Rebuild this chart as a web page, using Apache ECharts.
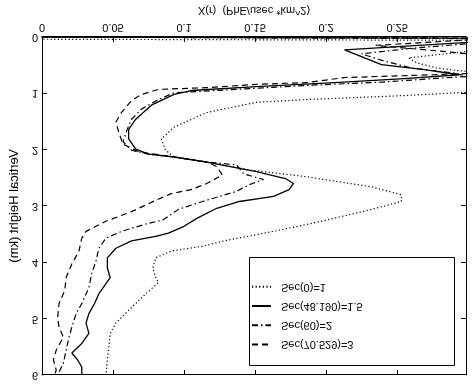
<!DOCTYPE html>
<html>
<head>
<meta charset="utf-8">
<script src="https://cdn.jsdelivr.net/npm/echarts@6/dist/echarts.min.js"></script>
<style>
html,body{margin:0;padding:0;background:#fff;}
#chart{width:474px;height:384px;transform:scaleY(-1);transform-origin:50% 50%;}
</style>
</head>
<body>
<div id="chart"></div>
<script>
// Series names
const seriesNames = ['Sec(70.529)=3', 'Sec(60)=2', 'Sec(48.190)=1.5', 'Sec(0)=1'];
// Axis text
const xAxisTitle = 'X(r)  (PhE/usec *km^2)';
const yAxisTitle = 'Vertical Height (km)';
const xTicks = [0, 0.05, 0.1, 0.15, 0.2, 0.25];
const yTicks = [0, 1, 2, 3, 4, 5, 6];

// Sec(0)=1 (dotted)
const dottedH = [0, 0.04, 0.06, 0.15, 0.24, 0.37, 0.46, 0.55, 0.60, 0.66, 0.90, 0.98, 1.04, 1.11, 1.16, 1.34, 1.60, 1.81, 2.01, 2.13, 2.22, 2.36, 2.48, 2.66, 2.80, 2.92, 3.06, 3.27, 3.45, 3.62, 3.71, 3.80, 3.92, 4.10, 4.27, 4.36, 4.56, 4.85, 5.08, 5.26, 5.51, 5.73, 6.0];
const dottedX = [0, 0, 0.33, 0.33, 0.305, 0.258, 0.264, 0.278, 0.294, 0.32, 0.33, 0.300, 0.255, 0.186, 0.151, 0.116, 0.093, 0.084, 0.087, 0.093, 0.116, 0.146, 0.186, 0.232, 0.253, 0.253, 0.232, 0.197, 0.163, 0.128, 0.114, 0.091, 0.080, 0.078, 0.080, 0.082, 0.073, 0.061, 0.052, 0.048, 0.047, 0.046, 0.045];

// Sec(48.190)=1.5 (solid)
const solidH = [0, 0.02, 0.08, 0.23, 0.49, 0.58, 0.67, 0.74, 0.81, 0.88, 0.95, 1.02, 1.21, 1.46, 1.64, 1.81, 1.99, 2.08, 2.13, 2.22, 2.39, 2.52, 2.60, 2.71, 2.83, 2.92, 3.04, 3.22, 3.36, 3.48, 3.54, 3.62, 3.75, 3.92, 4.10, 4.27, 4.38, 4.56, 4.73, 4.91, 5.08, 5.26, 5.44, 5.61, 5.73, 5.86, 6.0];
const solidX = [0, 0.32, 0.31, 0.213, 0.239, 0.269, 0.294, 0.255, 0.206, 0.151, 0.105, 0.093, 0.077, 0.066, 0.061, 0.061, 0.066, 0.075, 0.093, 0.116, 0.151, 0.172, 0.177, 0.174, 0.163, 0.139, 0.123, 0.109, 0.100, 0.089, 0.080, 0.063, 0.052, 0.046, 0.046, 0.048, 0.045, 0.040, 0.037, 0.033, 0.031, 0.033, 0.028, 0.021, 0.025, 0.028, 0.028];

// Sec(60)=2 (dash-dot)
const dashDotH = [0, 0.03, 0.10, 0.20, 0.30, 0.42, 0.55, 0.64, 0.70, 0.73, 0.80, 0.86, 0.99, 1.11, 1.28, 1.46, 1.64, 1.86, 2.01, 2.08, 2.13, 2.22, 2.27, 2.43, 2.53, 2.62, 2.74, 2.92, 3.06, 3.25, 3.32, 3.45, 3.57, 3.75, 3.98, 4.20, 4.45, 4.73, 4.91, 5.15, 5.33, 5.56, 5.79, 6.0];
const dashDotX = [0, 0.32, 0.31, 0.26, 0.225, 0.24, 0.26, 0.29, 0.30, 0.28, 0.24, 0.186, 0.093, 0.082, 0.070, 0.063, 0.060, 0.057, 0.063, 0.075, 0.093, 0.116, 0.137, 0.142, 0.156, 0.146, 0.137, 0.113, 0.096, 0.085, 0.073, 0.056, 0.045, 0.040, 0.038, 0.035, 0.033, 0.028, 0.024, 0.021, 0.019, 0.017, 0.015, 0.011];

// Sec(70.529)=3 (dashed)
const dashedH = [0, 0.02, 0.05, 0.15, 0.25, 0.35, 0.60, 0.65, 0.67, 0.72, 0.81, 0.84, 0.90, 0.93, 1.02, 1.13, 1.34, 1.51, 1.69, 1.90, 2.04, 2.13, 2.22, 2.30, 2.45, 2.60, 2.71, 2.78, 2.90, 3.10, 3.27, 3.45, 3.57, 3.80, 4.03, 4.27, 4.50, 4.73, 4.98, 5.15, 5.33, 5.56, 5.73, 5.91, 6.0];
const dashedX = [0, 0.32, 0.32, 0.235, 0.28, 0.32, 0.32, 0.298, 0.276, 0.213, 0.186, 0.151, 0.116, 0.082, 0.070, 0.063, 0.056, 0.052, 0.054, 0.057, 0.068, 0.093, 0.116, 0.123, 0.127, 0.116, 0.105, 0.091, 0.080, 0.063, 0.045, 0.031, 0.028, 0.026, 0.021, 0.017, 0.016, 0.012, 0.011, 0.012, 0.015, 0.010, 0.008, 0.010, 0.009];

function pairs(xs, hs) { return xs.map((x, i) => [x, hs[i]]); }

const font = 'Liberation Sans, Arial, Helvetica, sans-serif';
const chart = echarts.init(document.getElementById('chart'), null, {renderer: 'canvas'});

const axisCommon = {
  axisLine: {show: true, onZero: false, lineStyle: {color: '#000', width: 1}},
  axisTick: {show: true, inside: true, length: 5, lineStyle: {color: '#000'}},
  splitLine: {show: false}
};

function lineSeries(name, xs, hs, type, width) {
  return {
    name: name,
    type: 'line',
    data: pairs(xs, hs),
    showSymbol: false,
    symbol: 'none',
    clip: true,
    smooth: false,
    animation: false,
    itemStyle: {color: '#000'},
    lineStyle: {color: '#000', width: width, type: type}
  };
}

chart.setOption({
  animation: false,
  backgroundColor: '#fff',
  color: ['#000'],
  textStyle: {fontFamily: font, color: '#000'},
  grid: {left: 32, right: 8, top: 9, bottom: 34},
  xAxis: [
    Object.assign({
      type: 'value', position: 'bottom', min: xTicks[0], max: 0.2985, interval: 0.05,
      name: xAxisTitle, nameLocation: 'middle', nameGap: 21,
      nameTextStyle: {fontSize: 11, color: '#000', fontFamily: font},
      axisLabel: {fontSize: 11, color: '#000', margin: 4, showMaxLabel: false, fontFamily: font,
        formatter: v => xTicks.some(t => Math.abs(t - v) < 1e-9) ? String(+v.toFixed(2)) : ''}
    }, axisCommon),
    Object.assign({
      type: 'value', position: 'top', min: xTicks[0], max: 0.2985, interval: 0.05,
      axisLabel: {show: false}
    }, axisCommon)
  ],
  yAxis: [
    Object.assign({
      type: 'value', position: 'left', min: yTicks[0], max: yTicks[yTicks.length - 1], interval: 1,
      name: yAxisTitle, nameLocation: 'middle', nameGap: 18,
      nameTextStyle: {fontSize: 13, color: '#000', fontFamily: font},
      axisLabel: {fontSize: 11, color: '#000', margin: 4, fontFamily: font}
    }, axisCommon),
    Object.assign({
      type: 'value', position: 'right', min: yTicks[0], max: yTicks[yTicks.length - 1], interval: 1,
      axisLabel: {show: false}
    }, axisCommon)
  ],
  legend: {
    orient: 'vertical',
    left: 251, top: 34,
    padding: 0,
    itemWidth: 19, itemHeight: 14, itemGap: 8,
    data: seriesNames,
    itemStyle: {opacity: 0},
    textStyle: {fontSize: 11, color: '#000', fontFamily: font, padding: [0, 0, 0, 5]},
    selectedMode: false
  },
  graphic: [{
    type: 'rect', left: 249, top: 18, z: -1,
    shape: {width: 205, height: 108},
    style: {fill: '#fff', stroke: '#000', lineWidth: 1}
  }],
  series: [
    lineSeries(seriesNames[0], dashedX, dashedH, [6, 4], 1.2),
    lineSeries(seriesNames[1], dashDotX, dashDotH, [6, 3, 1.5, 3], 1.2),
    lineSeries(seriesNames[2], solidX, solidH, 'solid', 1.3),
    lineSeries(seriesNames[3], dottedX, dottedH, [1.2, 2.4], 1.2)
  ]
});
</script>
</body>
</html>
